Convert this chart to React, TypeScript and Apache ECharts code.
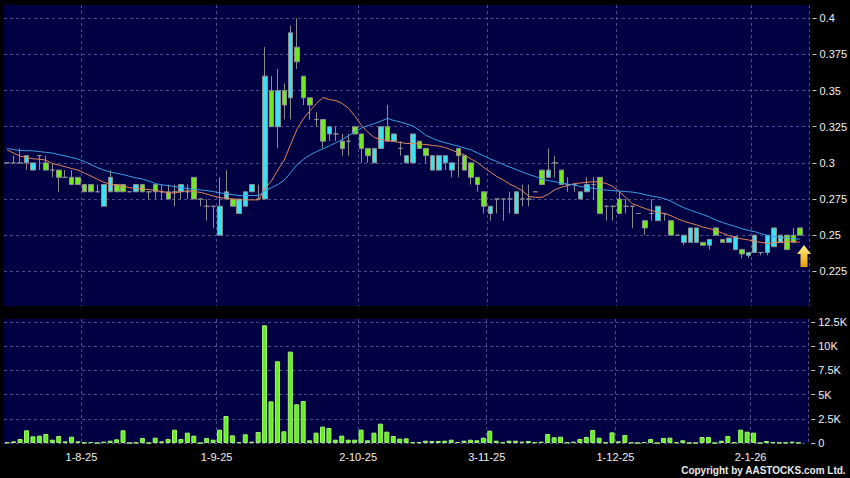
import React, { useEffect, useRef } from 'react';
import * as echarts from 'echarts';

// trading days: [yy, month, days]
const monthDays: [number, number, number[]][] = [
  [25, 7, [16, 17, 18, 21, 22, 23, 24, 25, 28, 29, 30, 31]],
  [25, 8, [1, 4, 5, 6, 7, 8, 11, 12, 13, 14, 15, 18, 19, 20, 21, 22, 25, 26, 27, 28, 29]],
  [25, 9, [1, 2, 3, 4, 5, 8, 9, 10, 11, 12, 15, 16, 17, 18, 19, 22, 23, 24, 25, 26, 29, 30]],
  [25, 10, [2, 3, 6, 8, 9, 10, 13, 14, 15, 16, 17, 20, 21, 22, 23, 24, 27, 28, 30, 31]],
  [25, 11, [3, 4, 5, 6, 7, 10, 11, 12, 13, 14, 17, 18, 19, 20, 21, 24, 25, 26, 27, 28]],
  [25, 12, [1, 2, 3, 4, 5, 8, 9, 10, 11, 12, 15, 16, 17, 18, 19, 22, 23, 24, 29, 30, 31]],
  [26, 1, [2, 5, 6, 7, 8, 9, 12, 13, 14]],
];

const open = [
  0.3, 0.3, 0.3, 0.3, 0.295, 0.305, 0.3, 0.295, 0.295, 0.29,
  0.29, 0.29, 0.285, 0.285, 0.28, 0.27, 0.28, 0.285, 0.285, 0.28,
  0.28, 0.285, 0.28, 0.285, 0.28, 0.28, 0.28, 0.28, 0.28, 0.29,
  0.275, 0.27, 0.27, 0.25, 0.275, 0.275, 0.265, 0.27, 0.28, 0.275,
  0.275, 0.35, 0.325, 0.35, 0.345, 0.38, 0.36, 0.345, 0.33, 0.33,
  0.32, 0.32, 0.315, 0.315, 0.325, 0.32, 0.31, 0.3, 0.31, 0.325,
  0.315, 0.31, 0.3, 0.3, 0.315, 0.31, 0.295, 0.295, 0.3, 0.295,
  0.31, 0.305, 0.3, 0.29, 0.28, 0.265, 0.275, 0.275, 0.275, 0.265,
  0.275, 0.275, 0.28, 0.295, 0.29, 0.3, 0.295, 0.285, 0.285, 0.275,
  0.28, 0.285, 0.29, 0.27, 0.27, 0.275, 0.27, 0.27, 0.265, 0.26,
  0.265, 0.26, 0.265, 0.26, 0.25, 0.245, 0.245, 0.245, 0.245, 0.243,
  0.255, 0.247, 0.245, 0.24, 0.24, 0.236, 0.238, 0.238, 0.238, 0.242,
  0.245, 0.25, 0.25, 0.255,
];
const close = [
  0.3, 0.3, 0.3, 0.305, 0.3, 0.305, 0.295, 0.295, 0.29, 0.29,
  0.285, 0.285, 0.28, 0.28, 0.28, 0.285, 0.29, 0.28, 0.28, 0.28,
  0.285, 0.28, 0.28, 0.28, 0.28, 0.275, 0.28, 0.285, 0.28, 0.275,
  0.275, 0.27, 0.27, 0.27, 0.28, 0.27, 0.275, 0.28, 0.285, 0.275,
  0.36, 0.325, 0.35, 0.34, 0.39, 0.37, 0.345, 0.34, 0.33, 0.315,
  0.325, 0.32, 0.31, 0.315, 0.32, 0.31, 0.305, 0.31, 0.325, 0.315,
  0.32, 0.31, 0.305, 0.32, 0.31, 0.305, 0.305, 0.305, 0.305, 0.3,
  0.305, 0.295, 0.29, 0.285, 0.27, 0.27, 0.275, 0.275, 0.275, 0.28,
  0.275, 0.275, 0.28, 0.285, 0.295, 0.3, 0.285, 0.285, 0.285, 0.28,
  0.285, 0.285, 0.265, 0.27, 0.27, 0.265, 0.27, 0.27, 0.265, 0.255,
  0.265, 0.27, 0.265, 0.25, 0.25, 0.25, 0.255, 0.255, 0.243, 0.247,
  0.25, 0.245, 0.248, 0.249, 0.237, 0.238, 0.25, 0.238, 0.25, 0.255,
  0.25, 0.24, 0.245, 0.25,
];
const low = [
  0.3, 0.3, 0.3, 0.295, 0.295, 0.295, 0.295, 0.29, 0.28, 0.29,
  0.285, 0.285, 0.28, 0.28, 0.28, 0.27, 0.28, 0.28, 0.28, 0.28,
  0.28, 0.28, 0.275, 0.275, 0.275, 0.275, 0.27, 0.275, 0.275, 0.275,
  0.27, 0.26, 0.255, 0.25, 0.275, 0.27, 0.265, 0.27, 0.28, 0.275,
  0.275, 0.325, 0.31, 0.33, 0.33, 0.365, 0.34, 0.33, 0.325, 0.31,
  0.315, 0.315, 0.305, 0.305, 0.32, 0.3, 0.3, 0.3, 0.31, 0.315,
  0.315, 0.305, 0.3, 0.3, 0.31, 0.3, 0.295, 0.295, 0.295, 0.29,
  0.29, 0.295, 0.285, 0.28, 0.265, 0.26, 0.265, 0.26, 0.265, 0.265,
  0.27, 0.27, 0.28, 0.285, 0.29, 0.29, 0.285, 0.28, 0.28, 0.275,
  0.28, 0.275, 0.265, 0.26, 0.26, 0.265, 0.265, 0.255, 0.265, 0.25,
  0.26, 0.26, 0.26, 0.25, 0.25, 0.243, 0.245, 0.245, 0.243, 0.24,
  0.25, 0.245, 0.245, 0.24, 0.234, 0.234, 0.238, 0.236, 0.236, 0.242,
  0.245, 0.24, 0.245, 0.25,
];
const high = [
  0.3, 0.305, 0.31, 0.305, 0.3, 0.305, 0.305, 0.3, 0.295, 0.295,
  0.295, 0.29, 0.285, 0.285, 0.285, 0.285, 0.295, 0.285, 0.285, 0.28,
  0.285, 0.285, 0.28, 0.285, 0.285, 0.285, 0.285, 0.285, 0.285, 0.29,
  0.275, 0.275, 0.27, 0.29, 0.295, 0.275, 0.275, 0.28, 0.285, 0.285,
  0.38, 0.36, 0.365, 0.355, 0.395, 0.4, 0.36, 0.345, 0.335, 0.33,
  0.325, 0.325, 0.32, 0.32, 0.325, 0.32, 0.31, 0.31, 0.325, 0.34,
  0.32, 0.315, 0.305, 0.32, 0.315, 0.31, 0.305, 0.305, 0.305, 0.3,
  0.31, 0.305, 0.3, 0.29, 0.28, 0.27, 0.275, 0.275, 0.28, 0.28,
  0.285, 0.285, 0.28, 0.295, 0.31, 0.305, 0.295, 0.29, 0.285, 0.28,
  0.29, 0.29, 0.29, 0.27, 0.27, 0.28, 0.275, 0.27, 0.265, 0.26,
  0.275, 0.27, 0.265, 0.26, 0.25, 0.25, 0.255, 0.255, 0.245, 0.247,
  0.255, 0.247, 0.248, 0.249, 0.24, 0.238, 0.25, 0.238, 0.25, 0.255,
  0.25, 0.25, 0.255, 0.255,
];
const ma10 = [
  0.3089, 0.3068, 0.3047, 0.3037, 0.3028, 0.3025, 0.3019, 0.2995, 0.2985, 0.2973,
  0.2961, 0.295, 0.2929, 0.2909, 0.2886, 0.2866, 0.2852, 0.2846, 0.2839, 0.2829,
  0.2822, 0.282, 0.2815, 0.281, 0.2801, 0.2794, 0.2791, 0.2801, 0.2808, 0.2801,
  0.2796, 0.2784, 0.277, 0.276, 0.2754, 0.2749, 0.2744, 0.2744, 0.2744, 0.2744,
  0.2822, 0.2875, 0.295, 0.302, 0.313, 0.3235, 0.3307, 0.3362, 0.3411, 0.3452,
  0.3438, 0.3431, 0.3411, 0.3376, 0.3321, 0.3258, 0.321, 0.3175, 0.3161, 0.3154,
  0.3148, 0.3141, 0.3134, 0.3134, 0.313, 0.3127, 0.3121, 0.3116, 0.3106, 0.3088,
  0.3071, 0.3054, 0.3026, 0.3002, 0.2967, 0.2936, 0.2905, 0.2881, 0.2853, 0.2832,
  0.2805, 0.2767, 0.2762, 0.2762, 0.2784, 0.2815, 0.2832, 0.2843, 0.2857, 0.2861,
  0.2866, 0.287, 0.2867, 0.2857, 0.2836, 0.2801, 0.276, 0.2718, 0.2701, 0.2684,
  0.267, 0.2659, 0.2649, 0.2635, 0.2614, 0.2597, 0.2583, 0.2571, 0.2555, 0.2545,
  0.2531, 0.2514, 0.2497, 0.2483, 0.2474, 0.2467, 0.2458, 0.245, 0.2443, 0.2448,
  0.245, 0.2455, 0.2456, 0.2451,
];
const ma20 = [
  0.3099, 0.3092, 0.3085, 0.3084, 0.3083, 0.3078, 0.3073, 0.3068, 0.3057, 0.3048,
  0.3037, 0.3026, 0.3009, 0.2988, 0.2967, 0.295, 0.2936, 0.2928, 0.2919, 0.2907,
  0.2896, 0.2888, 0.2874, 0.2857, 0.2848, 0.2843, 0.2836, 0.2829, 0.2822, 0.2817,
  0.2813, 0.2808, 0.2801, 0.2793, 0.2786, 0.278, 0.2774, 0.2774, 0.2774, 0.2774,
  0.2808, 0.2829, 0.285, 0.2881, 0.2933, 0.2988, 0.3026, 0.3055, 0.3078, 0.3097,
  0.3118, 0.3139, 0.3161, 0.3189, 0.3217, 0.3241, 0.3258, 0.3272, 0.3289, 0.3308,
  0.3293, 0.3283, 0.3269, 0.3255, 0.3224, 0.319, 0.317, 0.3152, 0.3139, 0.3127,
  0.3116, 0.3102, 0.3089, 0.3068, 0.3047, 0.3026, 0.3009, 0.2988, 0.2971, 0.2954,
  0.2936, 0.2919, 0.2905, 0.2888, 0.2877, 0.287, 0.286, 0.2853, 0.2846, 0.2837,
  0.283, 0.2824, 0.2815, 0.2812, 0.2808, 0.2805, 0.2801, 0.2798, 0.2791, 0.278,
  0.277, 0.2763, 0.2753, 0.2735, 0.2711, 0.269, 0.2673, 0.2658, 0.2642, 0.2625,
  0.2604, 0.2588, 0.2573, 0.256, 0.2545, 0.2533, 0.2524, 0.251, 0.2497, 0.2491,
  0.2486, 0.2481, 0.2476, 0.2472,
];
const volume = [
  50, 170, 410, 1310, 690, 760, 930, 340, 720, 170,
  650, 170, 30, 100, 0, 140, 240, 380, 1310, 0,
  30, 520, 0, 550, 170, 410, 1380, 410, 1070, 760,
  0, 520, 340, 1380, 2790, 790, 100, 900, 140, 1140,
  12160, 4300, 8440, 1210, 9440, 4000, 4340, 280, 1070, 1690,
  1550, 340, 760, 340, 340, 1380, 280, 1070, 2000, 1170,
  720, 450, 480, 70, 70, 240, 210, 210, 240, 340,
  100, 240, 340, 280, 550, 1270, 240, 70, 240, 240,
  140, 210, 70, 140, 930, 590, 650, 50, 140, 410,
  620, 1340, 550, 50, 1100, 170, 830, 50, 0, 100,
  410, 0, 520, 550, 70, 280, 0, 0, 620, 620,
  0, 240, 720, 50, 1380, 1170, 1070, 0, 210, 70,
  30, 30, 140, 30,
];
const priceTicks = [0.225, 0.25, 0.275, 0.3, 0.325, 0.35, 0.375, 0.4];
const volumeTicks = [0, 2500, 5000, 7500, 10000, 12500];

const categories: string[] = [];
const monthStart = new Set<number>();
monthDays.forEach(([yy, m, days], mi) => {
  days.forEach((d, di) => {
    if (di === 0 && mi > 0) monthStart.add(categories.length);
    categories.push(`${d}-${m}-${yy}`);
  });
});

const FONT = '"Liberation Sans", Arial, Helvetica, sans-serif';
const gridLine = { color: '#4c4c8c', type: [3, 3], width: 1 };
const isMonthStart = (index: number) => monthStart.has(index);

export default function App() {
  const ref = useRef<HTMLDivElement>(null);
  useEffect(() => {
    document.body.style.margin = '0';
    document.body.style.background = '#000';
    if (!ref.current) return;
    const chart = echarts.init(ref.current, undefined, { renderer: 'svg' });
    const option: any = {
      animation: false,
      backgroundColor: '#000000',
      textStyle: { fontFamily: FONT },
      grid: [
        { left: 4, right: 40, top: 5, height: 301, show: true, backgroundColor: '#000042', borderWidth: 0 },
        { left: 4, right: 40, top: 319, height: 124, show: true, backgroundColor: '#000042', borderWidth: 0 },
      ],
      xAxis: [
        {
          type: 'category', gridIndex: 0, data: categories, boundaryGap: true,
          axisLine: { show: false }, axisTick: { show: false }, axisLabel: { show: false },
          splitLine: { show: true, interval: isMonthStart, lineStyle: gridLine },
        },
        {
          type: 'category', gridIndex: 1, data: categories, boundaryGap: true,
          axisLine: { show: false }, axisTick: { show: false },
          axisLabel: {
            show: true, interval: isMonthStart, color: '#f0f0f0', fontSize: 11,
            fontFamily: FONT, margin: 8, padding: [0, 6, 0, 0],
          },
          splitLine: { show: true, interval: isMonthStart, lineStyle: gridLine },
        },
      ],
      yAxis: [
        {
          type: 'value', gridIndex: 0, position: 'right', min: 0.201, max: 0.4092, offset: 3,
          axisLine: { show: false },
          axisTick: { show: true, length: 4, customValues: priceTicks, lineStyle: { color: '#c8c8c8' } },
          axisLabel: {
            customValues: priceTicks, color: '#f0f0f0', fontSize: 11, fontFamily: FONT, margin: 7,
            formatter: (v: number) => String(+v.toFixed(3)),
          },
          splitLine: { show: true, lineStyle: gridLine },
        },
        {
          type: 'value', gridIndex: 1, position: 'right', min: 0, max: 12810, offset: 3,
          axisLine: { show: false },
          axisTick: { show: true, length: 4, customValues: volumeTicks, lineStyle: { color: '#c8c8c8' } },
          axisLabel: {
            customValues: volumeTicks, color: '#f0f0f0', fontSize: 11, fontFamily: FONT, margin: 7,
            formatter: (v: number) => (v === 0 ? '0' : `${v / 1000}K`),
          },
          splitLine: { show: true, lineStyle: gridLine },
        },
      ],
      series: [
        {
          type: 'candlestick', xAxisIndex: 0, yAxisIndex: 0, barWidth: 5,
          data: open.map((o, i) => [o, close[i], low[i], high[i]]),
          itemStyle: {
            color: '#38e2f2', color0: '#72e81f',
            borderColor: '#8e8e8e', borderColor0: '#8e8e8e', borderColorDoji: '#8e8e8e', borderWidth: 1,
          },
          z: 2,
        },
        {
          type: 'line', xAxisIndex: 0, yAxisIndex: 0, data: ma10, symbol: 'none', z: 3,
          lineStyle: { color: '#e0855a', width: 1 },
        },
        {
          type: 'line', xAxisIndex: 0, yAxisIndex: 0, data: ma20, symbol: 'none', z: 3,
          lineStyle: { color: '#3d9de6', width: 1 },
        },
        {
          type: 'bar', xAxisIndex: 1, yAxisIndex: 1, data: volume, barWidth: 5,
          itemStyle: { color: '#66ee22', borderColor: '#a2f56e', borderWidth: 1 },
        },
      ],
      graphic: [
        {
          type: 'polygon', z: 10,
          shape: { points: [[804, 245], [811, 254], [807.5, 254], [807.5, 267], [800.5, 267], [800.5, 254], [797, 254]] },
          style: {
            fill: new echarts.graphic.LinearGradient(0, 0, 0, 1, [
              { offset: 0, color: '#fff08a' },
              { offset: 1, color: '#e6a000' },
            ]),
          },
        },
        {
          type: 'text', right: 4, top: 465, z: 10,
          style: {
            text: 'Copyright by AASTOCKS.com Ltd.', fill: '#e8e8e8',
            font: `bold 10px ${FONT}`,
          },
        },
      ],
    };
    chart.setOption(option);
    return () => chart.dispose();
  }, []);
  return <div ref={ref} style={{ width: 850, height: 478, background: '#000' }} />;
}
